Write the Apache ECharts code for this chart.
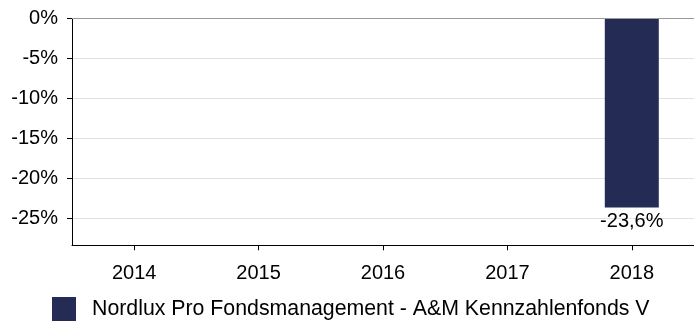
<!DOCTYPE html>
<html>
<head>
<meta charset="utf-8">
<script src="https://cdn.jsdelivr.net/npm/echarts@6/dist/echarts.min.js"></script>
<style>
  html, body { margin: 0; padding: 0; background: #ffffff; }
  #chart { width: 694px; height: 322px; }
</style>
</head>
<body>
<div id="chart"></div>
<script>
// Annual performance of the fund, in percent
const years = ['2014', '2015', '2016', '2017', '2018'];
const seriesName = 'Nordlux Pro Fondsmanagement - A&M Kennzahlenfonds V';
const returns = [null, null, null, null, -23.6];

const FONT = 'Liberation Sans, Arial, sans-serif';
const BAR_COLOR = '#242b55';

function pct(v) {
  return String(v).replace('.', ',') + '%';
}

const chart = echarts.init(document.getElementById('chart'), null, { renderer: 'canvas' });

chart.setOption({
  backgroundColor: '#ffffff',
  animation: false,
  grid: { left: 72, right: 0, top: 18.7, bottom: 76.7, containLabel: false },
  legend: {
    show: true,
    left: 52,
    top: 297,
    padding: 0,
    itemWidth: 24,
    itemHeight: 24,
    icon: 'rect',
    textStyle: { fontFamily: FONT, fontSize: 21.3, color: '#000000', padding: [0, 0, 0, 11] },
    data: [seriesName]
  },
  xAxis: {
    type: 'category',
    data: years,
    axisLine: { onZero: false, lineStyle: { color: '#000000', width: 1 } },
    axisTick: { show: true, alignWithLabel: true, length: 5, lineStyle: { color: '#000000' } },
    axisLabel: { fontFamily: FONT, fontSize: 20, color: '#000000', margin: 18 },
    splitLine: { show: false }
  },
  yAxis: {
    type: 'value',
    min: -28.32,
    max: 0,
    splitNumber: 6,
    axisLine: { show: true, lineStyle: { color: '#000000', width: 1 } },
    axisTick: { show: true, length: 5, lineStyle: { color: '#000000' } },
    axisLabel: {
      fontFamily: FONT, fontSize: 20, color: '#000000', margin: 14,
      showMinLabel: false,
      formatter: function (v) { return v + '%'; }
    },
    splitLine: { show: true, lineStyle: { color: '#e2e2e2', width: 1 } }
  },
  series: [{
    name: seriesName,
    type: 'bar',
    data: returns,
    barWidth: 54,
    itemStyle: { color: BAR_COLOR },
    label: {
      show: true,
      position: 'bottom',
      distance: 4,
      fontFamily: FONT,
      fontSize: 20,
      color: '#000000',
      formatter: function (p) { return pct(p.value); }
    },
    markLine: {
      silent: true,
      symbol: 'none',
      label: { show: false },
      lineStyle: { color: '#9a9a9a', type: 'solid', width: 1 },
      data: [{ yAxis: 0 }]
    }
  }]
});
</script>
</body>
</html>
